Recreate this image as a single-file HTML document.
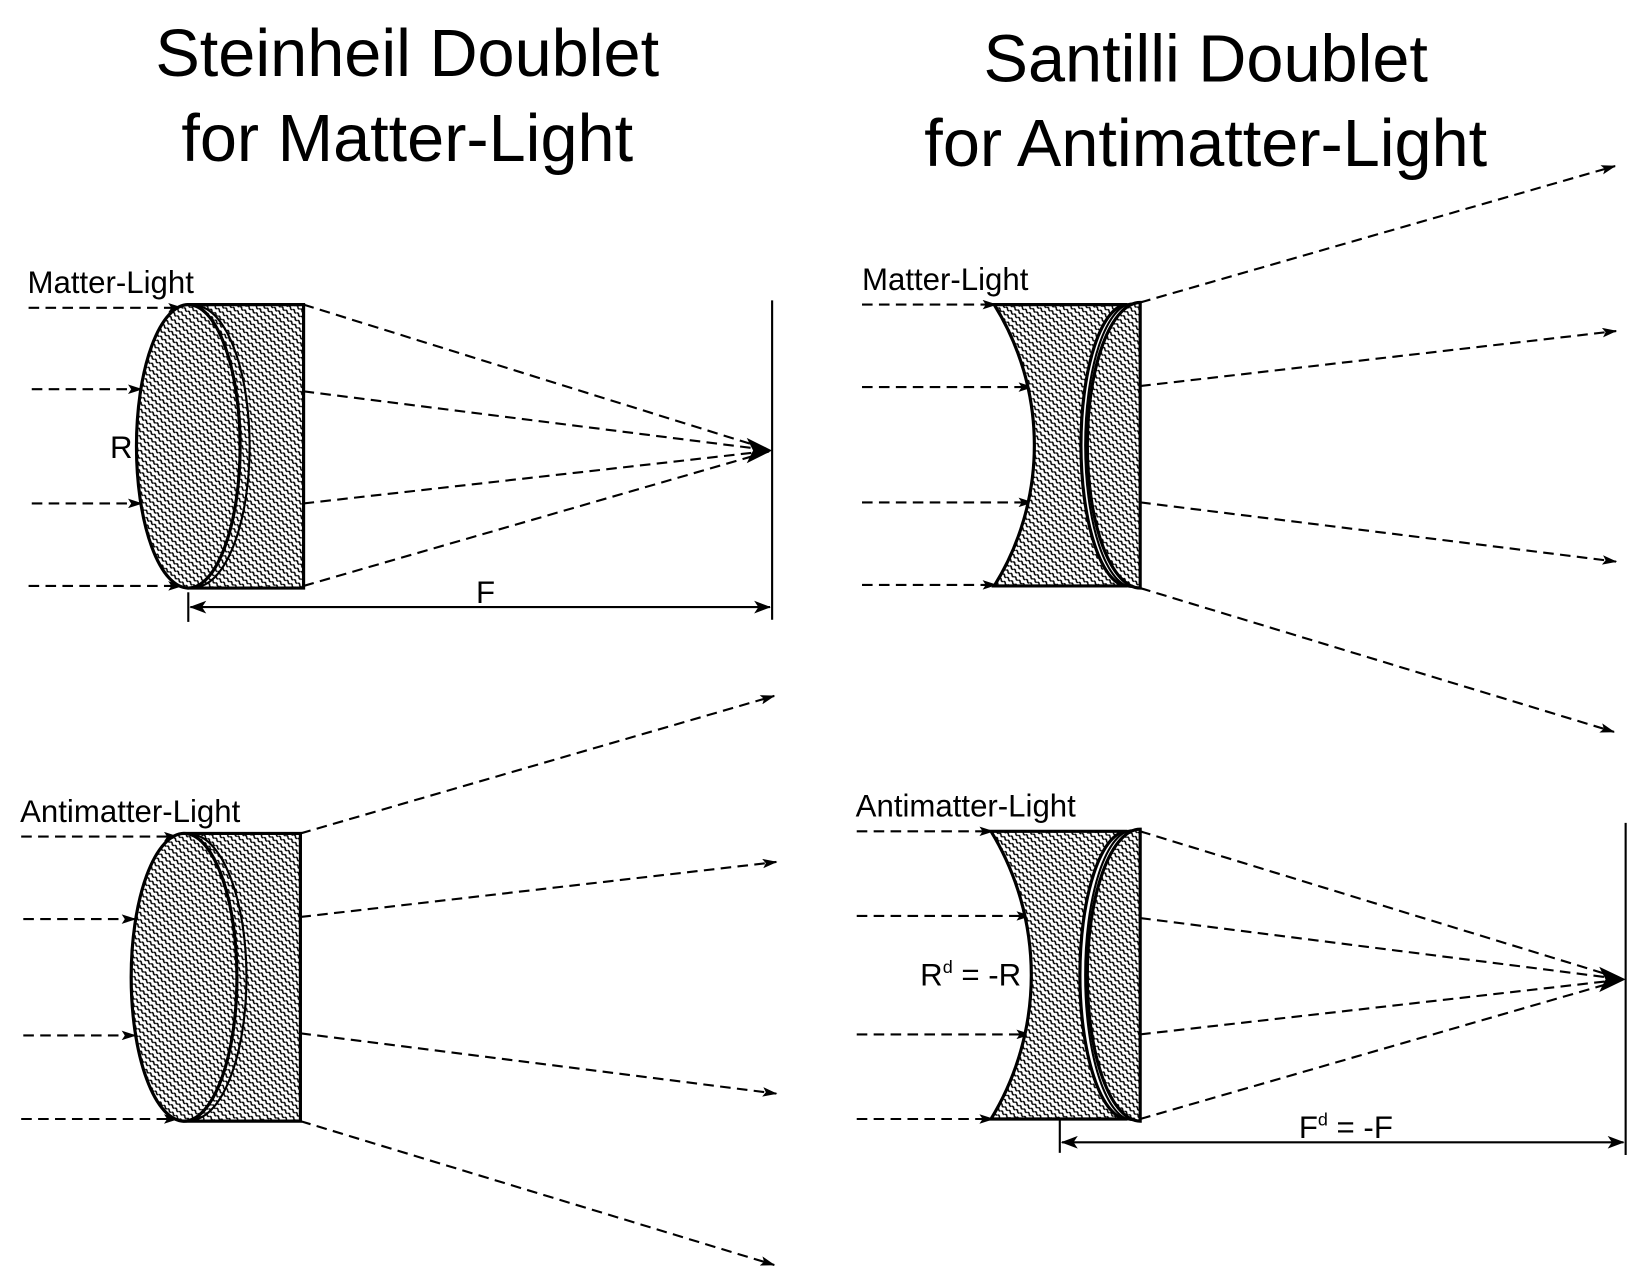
<!DOCTYPE html>
<html><head><style>html,body{margin:0;padding:0;background:#fff}svg{display:block}</style></head><body>
<svg width="1650" height="1275" viewBox="0 0 1560 1205.5" xmlns="http://www.w3.org/2000/svg" font-family="Liberation Sans, Arial, sans-serif">
<defs>
<pattern id="h" width="5" height="5" patternUnits="userSpaceOnUse" patternTransform="rotate(40)">
<rect width="5" height="5" fill="#fff"/><path d="M0,1.5 Q1.25,0 2.5,1.5 T5,1.5" stroke="#000" stroke-width="1.4" fill="none"/></pattern>
<marker id="a" markerWidth="14" markerHeight="9" refX="13" refY="4.5" orient="auto" markerUnits="userSpaceOnUse"><path d="M0,0 L14,4.5 L0,9 L3,4.5 Z" fill="#000"/></marker>
<marker id="b" markerWidth="16" markerHeight="12" refX="15" refY="6" orient="auto" markerUnits="userSpaceOnUse"><path d="M0,0 L16,6 L0,12 L4,6 Z" fill="#000"/></marker>
<marker id="s" markerWidth="16" markerHeight="12" refX="1" refY="6" orient="auto" markerUnits="userSpaceOnUse"><path d="M16,0 L0,6 L16,12 L12,6 Z" fill="#000"/></marker>
</defs>
<g font-size="63" text-anchor="middle">
<text x="385" y="72">Steinheil Doublet</text><text x="385" y="152">for Matter-Light</text>
<text x="1140" y="77">Santilli Doublet</text><text x="1140" y="157">for Antimatter-Light</text>
</g>
<g font-size="29.5">
<text x="26" y="277">Matter-Light</text><text x="815" y="274">Matter-Light</text>
<text x="19" y="777">Antimatter-Light</text><text x="809" y="772">Antimatter-Light</text>
<text x="104" y="433">R</text><text x="450" y="570">F</text>
<text x="870" y="932">R<tspan font-size="17" dy="-12">d</tspan><tspan dy="12"> = -R</tspan></text>
<text x="1228" y="1076">F<tspan font-size="17" dy="-12">d</tspan><tspan dy="12"> = -F</tspan></text>
</g>
<g stroke="#000" stroke-width="2" stroke-dasharray="10,6" fill="none" marker-end="url(#a)">
<path d="M27,291H172"/><path d="M30,368H134"/><path d="M30,476H134"/><path d="M27,554H172"/>
<path d="M20,791H168"/><path d="M22,869H128"/><path d="M22,979H128"/><path d="M20,1058H168"/>
<path d="M815,288H942"/><path d="M815,366H976"/><path d="M815,475H976"/><path d="M815,553H942"/>
<path d="M810,786H939"/><path d="M810,866H974"/><path d="M810,978H974"/><path d="M810,1058H939"/>
<path d="M284,788L732,658"/><path d="M284,867L734,815"/><path d="M284,977L734,1034"/><path d="M284,1060L732,1196"/>
<path d="M1078,286L1527,157"/><path d="M1078,365L1528,313"/><path d="M1078,475L1528,531"/><path d="M1078,556L1526,692"/>
</g>
<g stroke="#000" stroke-width="2" stroke-dasharray="10,6" fill="none">
<path d="M287,288L730,426"/><path d="M287,370L730,426"/><path d="M287,476L730,426"/><path d="M287,554L730,426"/>
<path d="M1078,786L1535,926"/><path d="M1078,868L1535,926"/><path d="M1078,978L1535,926"/><path d="M1078,1058L1535,926"/>
</g>
<path d="M706,414L730,426L706,438L712,426Z" fill="#000"/>
<path d="M1512,914L1537,926L1512,938L1518,926Z" fill="#000"/>
<g stroke="#000" stroke-width="2" fill="none">
<path d="M730,284V586"/><path d="M178,560V588"/>
<path d="M180,574H728" marker-start="url(#s)" marker-end="url(#b)"/>
<path d="M1537,778V1092"/><path d="M1002,1058V1090"/>
<path d="M1004,1080H1535" marker-start="url(#s)" marker-end="url(#b)"/>
</g>
<g stroke="#000" stroke-width="3">
<path d="M178,288H287V556H178Z" fill="url(#h)"/>
<ellipse cx="178" cy="422" rx="49" ry="134" fill="url(#h)"/>
<path d="M184,289A52,133 0 0 1 184,555" fill="none" stroke-width="2"/>
</g>
<g stroke="#000" stroke-width="3">
<path d="M174,788H284V1060H174Z" fill="url(#h)"/>
<ellipse cx="174" cy="924" rx="50" ry="136" fill="url(#h)"/>
<path d="M180,789A53,135 0 0 1 180,1059" fill="none" stroke-width="2"/>
</g>
<g stroke="#000" stroke-width="3">
<path d="M940,288H1066A44,133 0 0 0 1066,554H940A252,252 0 0 0 940,288Z" fill="url(#h)"/>
<path d="M1078,286A50,135 0 0 0 1078,556Z" fill="url(#h)"/>
<path d="M1071,287A45,134 0 0 0 1071,555" fill="none" stroke-width="2"/>
</g>
<g stroke="#000" stroke-width="3">
<path d="M937,786H1066A45,136 0 0 0 1066,1058H937A262,262 0 0 0 937,786Z" fill="url(#h)"/>
<path d="M1078,784A50,138 0 0 0 1078,1060Z" fill="url(#h)"/>
<path d="M1071,785A45,137 0 0 0 1071,1059" fill="none" stroke-width="2"/>
</g>
</svg>
</body></html>
